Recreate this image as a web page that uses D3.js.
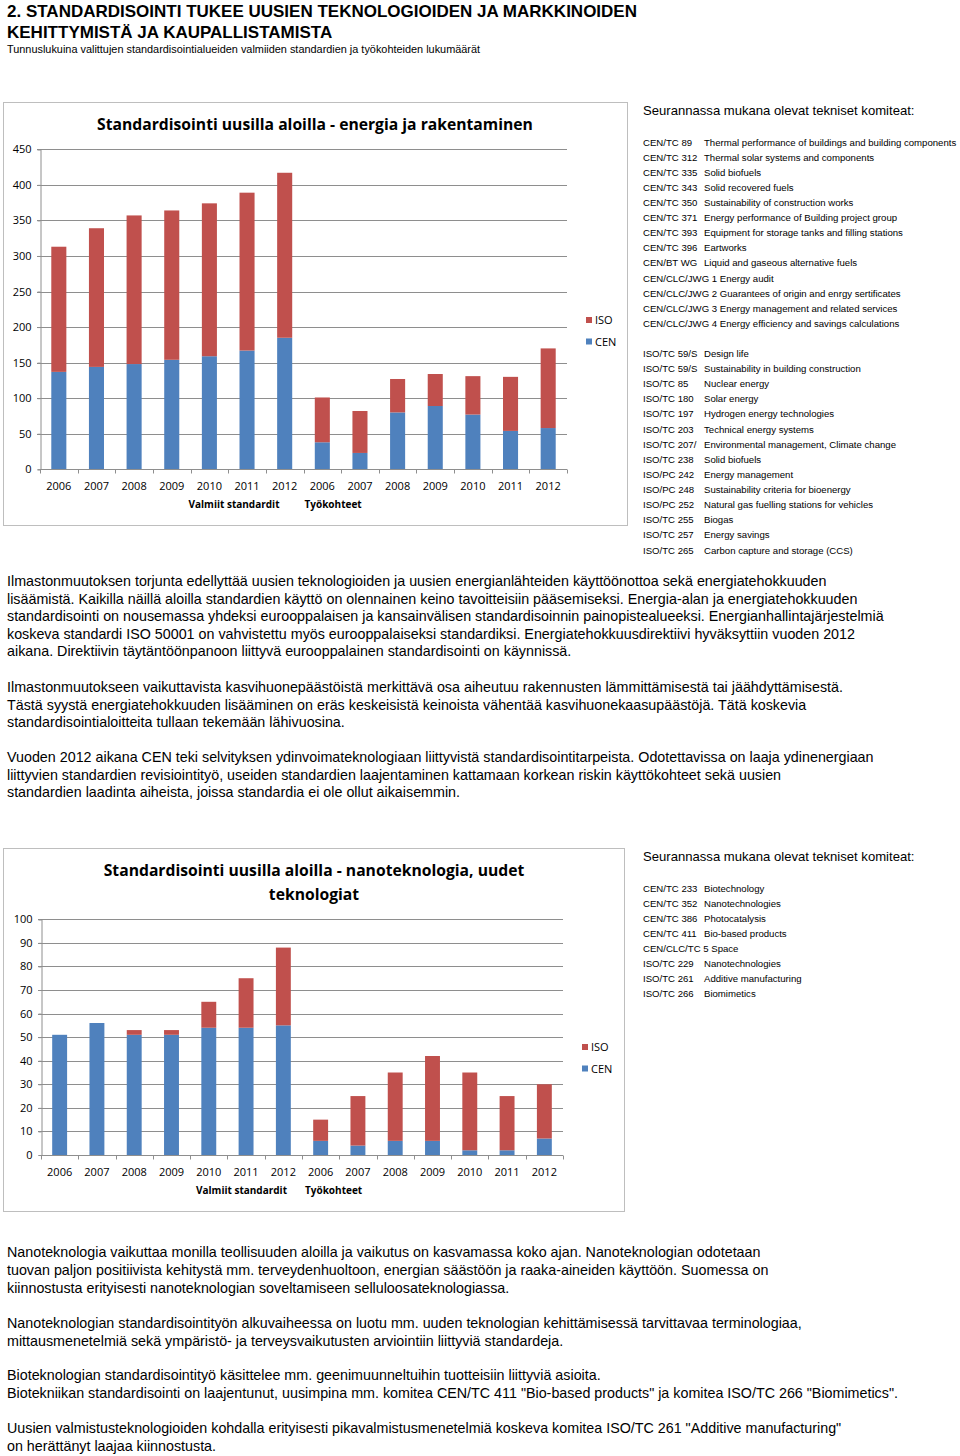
<!DOCTYPE html>
<html><head><meta charset="utf-8">
<script src="https://cdn.jsdelivr.net/npm/d3@7/dist/d3.min.js"></script>
<style>
body{margin:0;background:#fff;}
svg{display:block;}
</style></head><body>
<svg id="page" width="960" height="1456"></svg>
<script>
// ---------- DATA ----------
const pageTitle = ["2. STANDARDISOINTI TUKEE UUSIEN TEKNOLOGIOIDEN JA MARKKINOIDEN", "KEHITTYMISTÄ JA KAUPALLISTAMISTA"];
const pageSubtitle = "Tunnuslukuina valittujen standardisointialueiden valmiiden standardien ja työkohteiden lukumäärät";

const years = ["2006","2007","2008","2009","2010","2011","2012"];
const categories = years.concat(years);
const groupLabels = ["Valmiit standardit", "Työkohteet"];
const seriesNames = ["ISO", "CEN"];

const energyTitle = ["Standardisointi uusilla aloilla - energia ja rakentaminen"];
const energyCEN = [137, 144, 148, 154, 159, 167, 185, 38, 23, 80, 89, 77, 54, 58];
const energyISO = [176, 195, 209, 210, 215, 222, 232, 63, 59, 47, 45, 54, 76, 112];
const energyTicks = [0, 50, 100, 150, 200, 250, 300, 350, 400, 450];

const nanoTitle = ["Standardisointi uusilla aloilla - nanoteknologia, uudet", "teknologiat"];
const nanoCEN = [51, 56, 51, 51, 54, 54, 55, 6, 4, 6, 6, 2, 2, 7];
const nanoISO = [0, 0, 2, 2, 11, 21, 33, 9, 21, 29, 36, 33, 23, 23];
const nanoTicks = [0, 10, 20, 30, 40, 50, 60, 70, 80, 90, 100];

const listHeading = "Seurannassa mukana olevat tekniset komiteat:";
const energyListCEN = [
  ["CEN/TC 89", "Thermal performance of buildings and building components"],
  ["CEN/TC 312", "Thermal solar systems and components"],
  ["CEN/TC 335", "Solid biofuels"],
  ["CEN/TC 343", "Solid recovered fuels"],
  ["CEN/TC 350", "Sustainability of construction works"],
  ["CEN/TC 371", "Energy performance of Building project group"],
  ["CEN/TC 393", "Equipment for storage tanks and filling stations"],
  ["CEN/TC 396", "Eartworks"],
  ["CEN/BT WG", "Liquid and gaseous alternative fuels"],
  ["CEN/CLC/JWG 1 Energy audit", ""],
  ["CEN/CLC/JWG 2 Guarantees of origin and enrgy sertificates", ""],
  ["CEN/CLC/JWG 3 Energy management and related services", ""],
  ["CEN/CLC/JWG 4 Energy efficiency and savings calculations", ""]
];
const energyListISO = [
  ["ISO/TC 59/SC 14", "Design life"],
  ["ISO/TC 59/SC 17", "Sustainability in building construction"],
  ["ISO/TC 85", "Nuclear energy"],
  ["ISO/TC 180", "Solar energy"],
  ["ISO/TC 197", "Hydrogen energy technologies"],
  ["ISO/TC 203", "Technical energy systems"],
  ["ISO/TC 207/WG 7", "Environmental management, Climate change"],
  ["ISO/TC 238", "Solid biofuels"],
  ["ISO/PC 242", "Energy management"],
  ["ISO/PC 248", "Sustainability criteria for bioenergy"],
  ["ISO/PC 252", "Natural gas fuelling stations for vehicles"],
  ["ISO/TC 255", "Biogas"],
  ["ISO/TC 257", "Energy savings"],
  ["ISO/TC 265", "Carbon capture and storage (CCS)"]
];
const nanoList = [
  ["CEN/TC 233", "Biotechnology"],
  ["CEN/TC 352", "Nanotechnologies"],
  ["CEN/TC 386", "Photocatalysis"],
  ["CEN/TC 411", "Bio-based products"],
  ["CEN/CLC/TC 5 Space", ""],
  ["ISO/TC 229", "Nanotechnologies"],
  ["ISO/TC 261", "Additive manufacturing"],
  ["ISO/TC 266", "Biomimetics"]
];

const textBlock1 = [
  ["Ilmastonmuutoksen torjunta edellyttää uusien teknologioiden ja uusien energianlähteiden käyttöönottoa sekä energiatehokkuuden",
   "lisäämistä. Kaikilla näillä aloilla standardien käyttö on olennainen keino tavoitteisiin pääsemiseksi. Energia-alan ja energiatehokkuuden",
   "standardisointi on nousemassa yhdeksi eurooppalaisen ja kansainvälisen standardisoinnin painopistealueeksi. Energianhallintajärjestelmiä",
   "koskeva standardi ISO 50001 on vahvistettu myös eurooppalaiseksi standardiksi. Energiatehokkuusdirektiivi hyväksyttiin vuoden 2012",
   "aikana. Direktiivin täytäntöönpanoon liittyvä eurooppalainen standardisointi on käynnissä."],
  ["Ilmastonmuutokseen vaikuttavista kasvihuonepäästöistä merkittävä osa aiheutuu rakennusten lämmittämisestä tai jäähdyttämisestä.",
   "Tästä syystä energiatehokkuuden lisääminen on eräs keskeisistä keinoista vähentää kasvihuonekaasupäästöjä. Tätä koskevia",
   "standardisointialoitteita tullaan tekemään lähivuosina."],
  ["Vuoden 2012 aikana CEN teki selvityksen ydinvoimateknologiaan liittyvistä standardisointitarpeista. Odotettavissa on laaja ydinenergiaan",
   "liittyvien standardien revisiointityö, useiden standardien laajentaminen kattamaan korkean riskin käyttökohteet sekä uusien",
   "standardien laadinta aiheista, joissa standardia ei ole ollut aikaisemmin."]
];
const textBlock2 = [
  ["Nanoteknologia vaikuttaa monilla teollisuuden aloilla ja vaikutus on kasvamassa koko ajan. Nanoteknologian odotetaan",
   "tuovan paljon positiivista kehitystä mm. terveydenhuoltoon, energian säästöön ja raaka-aineiden käyttöön. Suomessa on",
   "kiinnostusta erityisesti nanoteknologian soveltamiseen selluloosateknologiassa."],
  ["Nanoteknologian standardisointityön alkuvaiheessa on luotu mm. uuden teknologian kehittämisessä tarvittavaa terminologiaa,",
   "mittausmenetelmiä sekä ympäristö- ja terveysvaikutusten arviointiin liittyviä standardeja."],
  ["Bioteknologian standardisointityö käsittelee mm. geenimuunneltuihin tuotteisiin liittyviä asioita.",
   "Biotekniikan standardisointi on laajentunut, uusimpina mm. komitea CEN/TC 411 \"Bio-based products\" ja komitea ISO/TC 266 \"Biomimetics\"."],
  ["Uusien valmistusteknologioiden kohdalla erityisesti pikavalmistusmenetelmiä koskeva komitea ISO/TC 261 \"Additive manufacturing\"",
   "on herättänyt laajaa kiinnostusta."]
];

// ---------- STYLE ----------
const COL = {ISO: "#C0504D", CEN: "#4F81BD"};
const chartFont = "'Open Sans', 'Noto Sans', sans-serif";
const textFont = "'Liberation Sans', Arial, sans-serif";

const svg = d3.select("#page");
const defs = svg.append("defs");

// Page title
svg.append("g").selectAll("text").data(pageTitle).join("text")
  .attr("x", 7).attr("y", (d, i) => 17 + i * 21)
  .style("font-family", textFont).style("font-weight", "bold").style("font-size", "17px")
  .attr("fill", "#000").text(d => d);
svg.append("text").attr("x", 7).attr("y", 53)
  .style("font-family", textFont).style("font-size", "10.9px").attr("fill", "#000").text(pageSubtitle);

function drawChart(cfg) {
  const g = svg.append("g");
  g.append("rect").attr("x", cfg.frame[0] + 0.5).attr("y", cfg.frame[1] + 0.5)
    .attr("width", cfg.frame[2]).attr("height", cfg.frame[3])
    .attr("fill", "#fff").attr("stroke", "#BEBEBE").attr("stroke-width", 1);

  const rows = categories.map((c, i) => ({idx: i, cat: c, CEN: cfg.cen[i], ISO: cfg.iso[i]}));
  const stacked = d3.stack().keys(["CEN", "ISO"])(rows);

  const x = d3.scaleBand().domain(d3.range(categories.length))
    .range([cfg.left, cfg.right]).paddingInner(0.6).paddingOuter(0.3);
  const y = d3.scaleLinear().domain([0, d3.max(cfg.ticks)]).range([cfg.bottom, cfg.top]);
  const step = x.step();

  // gridlines
  g.append("g").selectAll("line").data(cfg.ticks.filter(t => t > 0)).join("line")
    .attr("x1", cfg.left - 3).attr("x2", cfg.right)
    .attr("y1", d => Math.round(y(d)) + 0.5).attr("y2", d => Math.round(y(d)) + 0.5)
    .attr("stroke", "#8E8E8E").attr("stroke-width", 1);

  // y axis
  const yAxis = d3.axisLeft(y).tickValues(cfg.ticks).tickSize(3).tickPadding(6);
  const ya = g.append("g").attr("transform", `translate(${cfg.left + 0.5},0)`).call(yAxis);
  ya.select(".domain").attr("stroke", "#8E8E8E");
  ya.selectAll(".tick line").attr("stroke", "#8E8E8E");
  ya.selectAll(".tick text").style("font-family", chartFont).style("font-size", "11px").attr("fill", "#000");

  // bars
  g.append("g").selectAll("g").data(stacked).join("g")
    .attr("fill", d => COL[d.key])
    .selectAll("rect").data(d => d).join("rect")
    .attr("x", d => x(d.data.idx)).attr("width", x.bandwidth())
    .attr("y", d => y(d[1])).attr("height", d => y(d[0]) - y(d[1]));

  // x axis
  const bx = g.append("g").attr("transform", `translate(0,${Math.round(cfg.bottom) + 0.5})`);
  bx.append("line").attr("x1", cfg.left).attr("x2", cfg.right).attr("stroke", "#8E8E8E");
  bx.selectAll("line.tk").data(d3.range(categories.length + 1)).join("line").attr("class", "tk")
    .attr("x1", i => Math.round(cfg.left + i * step) + 0.5).attr("x2", i => Math.round(cfg.left + i * step) + 0.5)
    .attr("y1", 0).attr("y2", 4).attr("stroke", "#8E8E8E");
  bx.selectAll("text.cat").data(categories).join("text").attr("class", "cat")
    .attr("x", (d, i) => x(i) + x.bandwidth() / 2).attr("y", 20)
    .attr("text-anchor", "middle").style("font-family", chartFont).style("font-size", "11px")
    .attr("fill", "#000").text(d => d);
  const boundary = cfg.left + years.length * step;
  bx.append("text").attr("x", boundary + cfg.groupOff[0]).attr("y", 38).attr("text-anchor", "end")
    .style("font-family", chartFont).style("font-size", "10px").style("font-weight", "bold")
    .attr("fill", "#000").text(groupLabels[0]);
  bx.append("text").attr("x", boundary + cfg.groupOff[1]).attr("y", 38).attr("text-anchor", "start")
    .style("font-family", chartFont).style("font-size", "10px").style("font-weight", "bold")
    .attr("fill", "#000").text(groupLabels[1]);

  // title
  g.append("g").selectAll("text").data(cfg.title).join("text")
    .attr("x", cfg.titleX).attr("y", (d, i) => cfg.titleY + i * 24)
    .attr("text-anchor", "middle").style("font-family", chartFont).style("font-weight", "bold")
    .style("font-size", "15.7px").attr("fill", "#000").text(d => d);

  // legend
  const lg = g.append("g").attr("transform", `translate(${cfg.legend[0]},${cfg.legend[1]})`);
  seriesNames.forEach((s, i) => {
    lg.append("rect").attr("x", 0).attr("y", i * 21.5 - 3).attr("width", 6).attr("height", 6).attr("fill", COL[s]);
    lg.append("text").attr("x", 9).attr("y", i * 21.5 + 4)
      .style("font-family", chartFont).style("font-size", "11px").attr("fill", "#000").text(s);
  });
}

drawChart({
  frame: [3, 102, 624, 423], left: 40, right: 567, top: 149.3, bottom: 469.3,
  cen: energyCEN, iso: energyISO, ticks: energyTicks, title: energyTitle,
  titleX: 315, titleY: 130, legend: [586, 320], groupOff: [-24, 1]
});
drawChart({
  frame: [3, 848, 621, 363], left: 41, right: 563, top: 919.3, bottom: 1155,
  cen: nanoCEN, iso: nanoISO, ticks: nanoTicks, title: nanoTitle,
  titleX: 314, titleY: 876, legend: [582, 1047], groupOff: [-15, 3]
});

// committee lists (codes are cut to the width of their column, like a spreadsheet cell)
function fitToColumn(textSel, full, maxW) {
  let s = full;
  textSel.text(s);
  while (s.length > 1 && textSel.node().getComputedTextLength() > maxW) {
    s = s.slice(0, -1);
    textSel.text(s);
  }
}
function drawList(headY, items, startY, stepY) {
  const g = svg.append("g");
  g.append("text").attr("x", 643).attr("y", headY).style("font-family", textFont).style("font-size", "13.1px")
    .attr("fill", "#000").text(listHeading);
  items.forEach((items2, k) => {
    const sy = startY[k];
    items2.forEach((d, i) => {
      const yy = sy + i * stepY + 3.5;
      const t = g.append("text").attr("x", 643).attr("y", yy).style("font-family", textFont)
        .style("font-size", "9.6px").attr("fill", "#000").text(d[0]);
      if (d[1]) {
        fitToColumn(t, d[0], 60.5);
        g.append("text").attr("x", 704).attr("y", yy).style("font-family", textFont)
          .style("font-size", "9.6px").attr("fill", "#000").text(d[1]);
      }
    });
  });
}
drawList(115, [energyListCEN, energyListISO], [142, 353.5], 15.12);
drawList(861, [nanoList], [888], 15.14);

// body text (the first text box is cut at its right edge)
defs.append("clipPath").attr("id", "paraclip").append("rect")
  .attr("x", 0).attr("y", 0).attr("width", 886).attr("height", 1456);
function drawParas(blocks, starts, lh, clip) {
  const g = svg.append("g");
  if (clip) g.attr("clip-path", "url(#paraclip)");
  blocks.forEach((lines, b) => {
    lines.forEach((l, i) => {
      g.append("text").attr("x", 7).attr("y", starts[b] + i * lh + 5)
        .style("font-family", textFont).style("font-size", "14.3px").attr("fill", "#000").text(l);
    });
  });
}
drawParas(textBlock1, [581, 687, 757], 17.6, true);
drawParas(textBlock2, [1252, 1323, 1375, 1428], 17.8, false);
</script>
</body></html>
